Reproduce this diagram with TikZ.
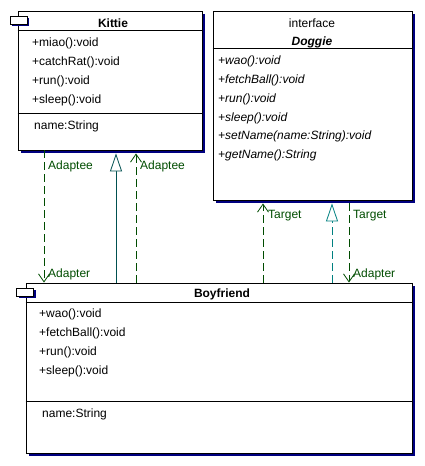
\documentclass[tikz,border=0pt]{standalone}
\usepackage{fontspec}
\setmainfont{Liberation Sans}
\usetikzlibrary{arrows.meta,shadows}
\definecolor{navyshadow}{RGB}{0,0,128}
\definecolor{depgreen}{RGB}{0,76,0}
\definecolor{realteal}{RGB}{0,128,128}
\definecolor{genteal}{RGB}{0,80,80}

\begin{document}
\begin{tikzpicture}[x=1pt, y=-1pt,
    cls/.style={draw, line width=0.9pt, fill=white, inner sep=0pt,
        drop shadow={shadow xshift=3pt, shadow yshift=-3pt, fill=navyshadow, opacity=1}},
    tab/.style={draw, line width=0.9pt, fill=white, minimum width=17pt, minimum height=8pt, inner sep=0pt,
        drop shadow={shadow xshift=2pt, shadow yshift=-2pt, fill=navyshadow, opacity=1}},
    title/.style={font=\fontsize{12}{14}\selectfont\bfseries, inner sep=0pt},
    item/.style={anchor=west, font=\fontsize{12}{14}\selectfont, inner sep=0pt},
    abstr/.style={item, font=\fontsize{12}{14}\selectfont\itshape},
    sep/.style={line width=0.9pt},
    dep/.style={depgreen, line width=0.8pt, dash pattern=on 8pt off 4pt},
    lbl/.style={depgreen, font=\fontsize{12}{14}\selectfont, inner sep=0pt, anchor=west},
    vhead/.style={-{Straight Barb[length=8pt, width=11pt, line width=0.8pt]}},
    trihead/.style={-{Triangle[open, fill=white, length=18pt, width=12pt, line width=0.8pt]}},
]
\useasboundingbox (0,0) rectangle (425,466);

% Kittie
\node[cls, minimum width=184pt, minimum height=139pt] (kittie) at (110,80.5) {};
\node[tab] (kittietab) at (18.5,20) {};
\node[title] (kittiename) at (113,23) {Kittie};
\draw[sep] (kittie.west |- 0,30) -- (kittie.east |- 0,30);
\node[item] (k1) at (32,43.5) {+miao():void};
\node[item] (k2) at (32,62.5) {+catchRat():void};
\node[item] (k3) at (32,81.5) {+run():void};
\node[item] (k4) at (32,100) {+sleep():void};
\draw[sep] (kittie.west |- 0,113) -- (kittie.east |- 0,113);
\node[item] (k5) at (34,126.5) {name:String};

% Doggie
\node[cls, minimum width=199pt, minimum height=189pt] (doggie) at (312.5,105.5) {};
\node[inner sep=0pt, font=\fontsize{12}{14}\selectfont] (doggiestereo) at (312,23) {interface};
\node[title, font=\fontsize{12}{14}\selectfont\bfseries\itshape] (doggiename) at (312,42) {Doggie};
\draw[sep] (doggie.west |- 0,48) -- (doggie.east |- 0,48);
\node[abstr] (d1) at (218,61.5) {+wao():void};
\node[abstr] (d2) at (218,80.5) {+fetchBall():void};
\node[abstr] (d3) at (218,99.5) {+run():void};
\node[abstr] (d4) at (218,118.5) {+sleep():void};
\node[abstr] (d5) at (218,136.5) {+setName(name:String):void};
\node[abstr] (d6) at (218,155.5) {+getName():String};

% Boyfriend
\node[cls, minimum width=386pt, minimum height=170pt] (boyfriend) at (219,368) {};
\node[tab] (boyfriendtab) at (25,292) {};
\node[title] (boyfriendname) at (222,294.5) {Boyfriend};
\draw[sep] (boyfriend.west |- 0,302) -- (boyfriend.east |- 0,302);
\node[item] (b1) at (39,314.5) {+wao():void};
\node[item] (b2) at (39,333.5) {+fetchBall():void};
\node[item] (b3) at (39,352.5) {+run():void};
\node[item] (b4) at (39,371.5) {+sleep():void};
\draw[sep] (boyfriend.west |- 0,401) -- (boyfriend.east |- 0,401);
\node[item] (b5) at (42,414.5) {name:String};

% relations Kittie -- Boyfriend
\draw[dep, vhead] (kittie.south -| 44,0) -- (boyfriend.north -| 44,0);
\node[lbl] at (48,166) {Adaptee};
\node[lbl] at (48,274) {Adapter};
\draw[genteal, line width=0.8pt, trihead] (boyfriend.north -| 116,0) -- ([yshift=-3pt]kittie.south -| 116,0);
\draw[dep, vhead] (boyfriend.north -| 136,0) -- ([yshift=-3pt]kittie.south -| 136,0);
\node[lbl] at (140,166) {Adaptee};

% relations Doggie -- Boyfriend
\draw[dep, vhead] (boyfriend.north -| 263,0) -- ([yshift=-3pt]doggie.south -| 263,0);
\node[lbl] at (268,216) {Target};
\draw[realteal, line width=0.8pt, dash pattern=on 8pt off 4pt, trihead] (boyfriend.north -| 332,0) -- ([yshift=-3pt]doggie.south -| 332,0);
\draw[dep, vhead] ([yshift=-3pt]doggie.south -| 349,0) -- (boyfriend.north -| 349,0);
\node[lbl] at (353,216) {Target};
\node[lbl] at (353,274) {Adapter};
\end{tikzpicture}
\end{document}
